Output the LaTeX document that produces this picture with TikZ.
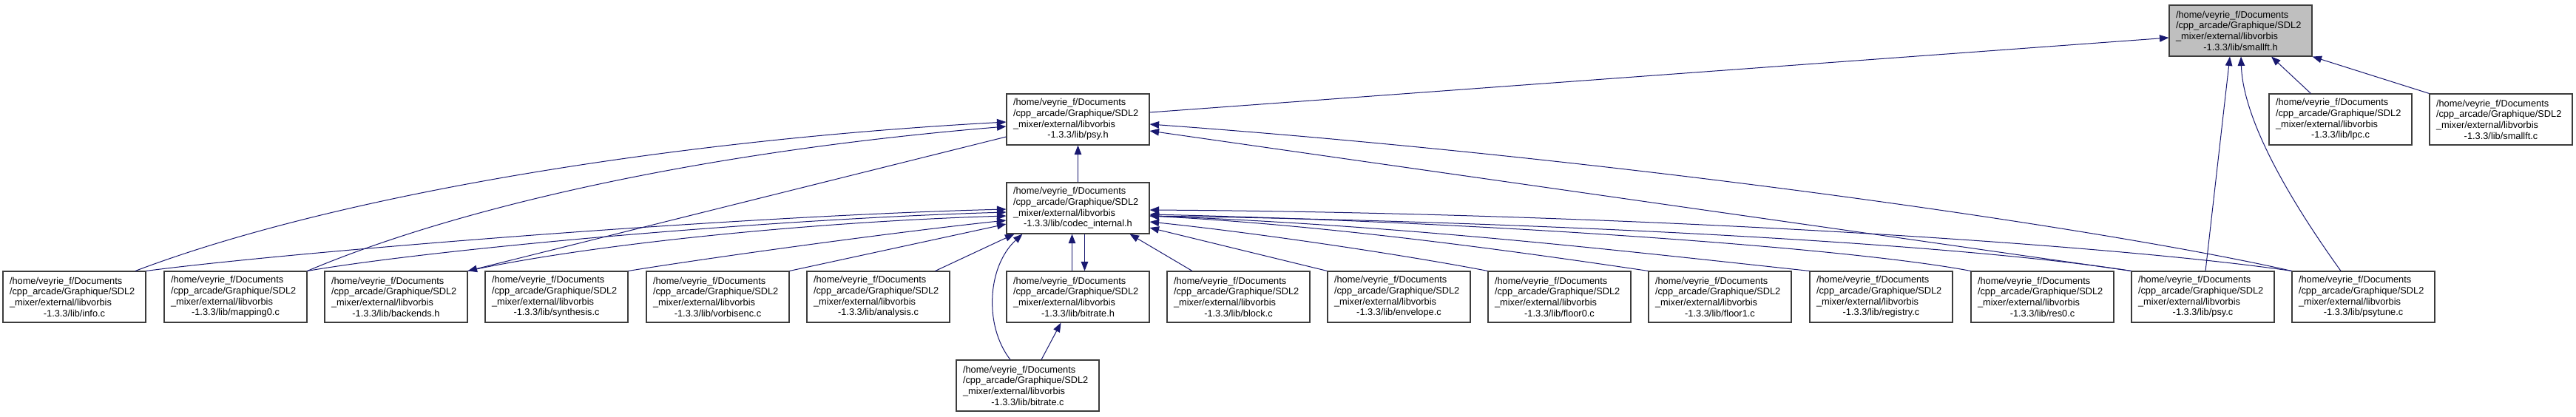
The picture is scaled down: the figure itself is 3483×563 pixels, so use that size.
\documentclass[tikz,border=0pt]{standalone}
\usepackage{fontspec}
\setmainfont{Liberation Sans}
\usetikzlibrary{arrows.meta}
\definecolor{mblue}{RGB}{25,25,112}
\definecolor{rootgray}{RGB}{191,191,191}
\definecolor{boxline}{RGB}{60,60,60}
\newcommand{\flabel}[1]{\parbox{175pt}{\raggedright /home/veyrie\_f/Documents\\/cpp\_arcade/Graphique/SDL2\\\_mixer/external/libvorbis\\\makebox[175pt][c]{-1.3.3/lib/#1}}}
\tikzset{
  file/.style={draw=boxline, fill=white, line width=1.1pt, rectangle,
    minimum width=193pt, minimum height=69pt, inner sep=0pt,
    font=\fontsize{12.8pt}{14.7pt}\selectfont},
  rootfile/.style={file, fill=rootgray},
  edge/.style={draw=mblue, line width=1pt, -{Triangle[length=12.5pt,width=9.5pt]}},
}
\begin{document}
\begin{tikzpicture}[x=1pt,y=-1pt]
\useasboundingbox (0,0) rectangle (3483,563);
% row 0
\node[rootfile] (smallfth) at (3029.5,41.5) {\flabel{smallft.h}};
% row 1
\node[file] (psyh) at (1457.5,161.5) {\flabel{psy.h}};
\node[file] (lpcc) at (3164.5,161.5) {\flabel{lpc.c}};
\node[file] (smallftc) at (3381.5,161.5) {\flabel{smallft.c}};
% row 2
\node[file] (codec) at (1457.5,281.5) {\flabel{codec\_internal.h}};
% row 3
\node[file] (infoc) at (100.5,401.5) {\flabel{info.c}};
\node[file] (mapping0c) at (318.5,401.5) {\flabel{mapping0.c}};
\node[file] (backendsh) at (535.5,401.5) {\flabel{backends.h}};
\node[file] (synthesisc) at (752.5,401.5) {\flabel{synthesis.c}};
\node[file] (vorbisencc) at (970.5,401.5) {\flabel{vorbisenc.c}};
\node[file] (analysisc) at (1187.5,401.5) {\flabel{analysis.c}};
\node[file] (bitrateh) at (1457.5,401.5) {\flabel{bitrate.h}};
\node[file] (blockc) at (1674.5,401.5) {\flabel{block.c}};
\node[file] (envelopec) at (1891.5,401.5) {\flabel{envelope.c}};
\node[file] (floor0c) at (2108.5,401.5) {\flabel{floor0.c}};
\node[file] (floor1c) at (2325.5,401.5) {\flabel{floor1.c}};
\node[file] (registryc) at (2543.5,401.5) {\flabel{registry.c}};
\node[file] (res0c) at (2761.5,401.5) {\flabel{res0.c}};
\node[file] (psyc) at (2978.5,401.5) {\flabel{psy.c}};
\node[file] (psytunec) at (3195.5,401.5) {\flabel{psytune.c}};
% row 4
\node[file] (bitratec) at (1389.5,521.5) {\flabel{bitrate.c}};

% edges into smallft.h
\draw[edge] ([yshift=9.5pt]psyh.east) -- ([yshift=-9.5pt]smallfth.west);
\draw[edge] ([xshift=-40pt]lpcc.north) -- ([xshift=41.5pt]smallfth.south);
\draw[edge] (smallftc.north west) -- (smallfth.south east);
\draw[edge] ([xshift=3.5pt]psyc.north) -- ([xshift=-14.5pt]smallfth.south);
\draw[edge] ([xshift=-30.5pt]psytunec.north) .. controls (3110,290) and (3033,170) .. ([xshift=0.5pt]smallfth.south);

% edges into psy.h
\draw[edge] ([xshift=82.5pt]infoc.north) .. controls (450,265) and (900,190) .. ([yshift=-3.5pt]psyh.west);
\draw[edge] (mapping0c.north east) .. controls (620,280) and (950,205) .. ([yshift=-9.5pt]psyh.west);
\draw[edge] (codec.north) -- (psyh.south);
\draw[edge] (psyc.north west) -- ([yshift=-15.5pt]psyh.east);
\draw[edge] (psytunec.north west) .. controls (2850,310) and (2200,215) .. ([yshift=-6.5pt]psyh.east);

% psy.h -> backends.h
\draw[edge] ([yshift=-23.5pt]psyh.west) -- (backendsh.north east);

% edges into codec_internal.h (left)
\draw[edge] (backendsh.north east) .. controls (800,330) and (1100,300) .. ([yshift=-10.5pt]codec.west);
\draw[edge] (infoc.north east) .. controls (400,340) and (1000,292) .. ([yshift=-1.5pt]codec.west);
\draw[edge] (mapping0c.north east) .. controls (600,335) and (1050,296) .. ([yshift=-5.5pt]codec.west);
\draw[edge] (synthesisc.north east) .. controls (950,350) and (1200,315) .. ([yshift=-16.5pt]codec.west);
\draw[edge] (vorbisencc.north east) -- ([yshift=-21.5pt]codec.west);
\draw[edge] ([xshift=-20pt]analysisc.north east) -- ([xshift=11pt]codec.south west);
\draw[edge] ([xshift=-23.5pt]bitratec.north) .. controls (1330,440) and (1335,360) .. ([xshift=22pt]codec.south west);

% codec_internal.h <-> bitrate.h
\draw[edge] ([xshift=-8pt]bitrateh.north) -- ([xshift=-8pt]codec.south);
\draw[edge] ([xshift=9pt]codec.south) -- ([xshift=9pt]bitrateh.north);
\draw[edge] ([xshift=18.5pt]bitratec.north) -- ([xshift=-23pt]bitrateh.south);

% edges into codec_internal.h (right)
\draw[edge] ([xshift=-62.5pt]blockc.north) -- ([xshift=70pt]codec.south);
\draw[edge] (envelopec.north west) -- ([yshift=-26.5pt]codec.east);
\draw[edge] (floor0c.north west) .. controls (1900,345) and (1700,315) .. ([yshift=-18.5pt]codec.east);
\draw[edge] (floor1c.north west) .. controls (2050,340) and (1800,305) .. ([yshift=-10.5pt]codec.east);
\draw[edge] (registryc.north west) .. controls (2200,340) and (1900,305) .. ([yshift=-10.5pt]codec.east);
\draw[edge] (res0c.north west) .. controls (2500,335) and (2000,300) .. ([yshift=-8.5pt]codec.east);
\draw[edge] (psyc.north west) .. controls (2650,330) and (2100,300) .. ([yshift=-10.5pt]codec.east);
\draw[edge] (psytunec.north west) .. controls (2850,330) and (2200,288) .. ([yshift=-2.5pt]codec.east);
\end{tikzpicture}
\end{document}
